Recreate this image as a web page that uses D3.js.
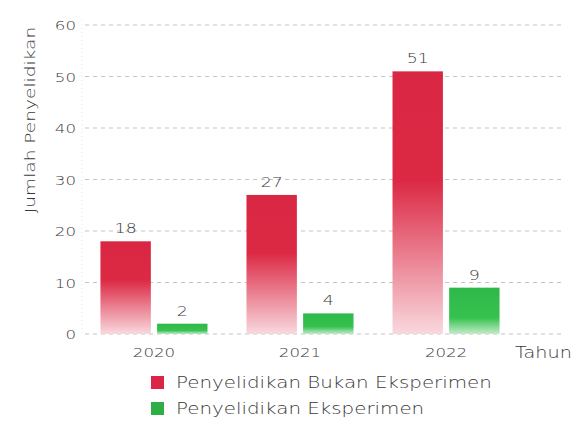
<!DOCTYPE html>
<html><head><meta charset="utf-8">
<script src="https://cdn.jsdelivr.net/npm/d3@7"></script>
<style>
body{margin:0;background:#fff;}
text{font-family:"DejaVu Sans",sans-serif;font-weight:200;fill:#3a3a3a;}
</style></head>
<body><svg id="c" width="580" height="422"></svg>
<script>
const years = ["2020","2021","2022"];
const seriesNames = ["Penyelidikan Bukan Eksperimen","Penyelidikan Eksperimen"];
const bukanEksperimen = [18,27,51];
const eksperimen = [2,4,9];
const yTicks = [0,10,20,30,40,50,60];

const SX = 1.28;
const svg = d3.select("#c");
function label(parent, x, y, txt, size, anchor, rot){
  const g = parent.append("g").attr("transform",`translate(${x},${y}) rotate(${rot||0}) scale(${SX},1)`);
  g.append("text").attr("text-anchor",anchor||"start").attr("font-size",size).text(txt);
  return g;
}

const x = d3.scaleBand().domain(years).range([80,520]).paddingInner(0.267).paddingOuter(0.14);
const xs = d3.scaleBand().domain(seriesNames).range([0,x.bandwidth()]).paddingInner(0.11);
const y = d3.scaleLinear().domain([0,60]).range([334,25]);

const defs = svg.append("defs");
const gr = defs.append("linearGradient").attr("id","gr").attr("x1",0).attr("y1",0).attr("x2",0).attr("y2",1);
gr.append("stop").attr("offset","0%").attr("stop-color","#d92743");
gr.append("stop").attr("offset","42%").attr("stop-color","#dc2a45");
gr.append("stop").attr("offset","100%").attr("stop-color","#f9d8de");
const gg = defs.append("linearGradient").attr("id","gg").attr("x1",0).attr("y1",0).attr("x2",0).attr("y2",1);
gg.append("stop").attr("offset","0%").attr("stop-color","#2fb84a");
gg.append("stop").attr("offset","65%").attr("stop-color","#36c24e");
gg.append("stop").attr("offset","100%").attr("stop-color","#c4ebcb");

// gridlines
svg.append("g").selectAll("line").data(yTicks).join("line")
  .attr("x1",85).attr("x2",565).attr("y1",d=>y(d)).attr("y2",d=>y(d))
  .attr("stroke","#c4c4c4").attr("stroke-width",1.2).attr("stroke-dasharray","4,4");
svg.append("line").attr("x1",82).attr("x2",82).attr("y1",20).attr("y2",334)
  .attr("stroke","#e6e6e6").attr("stroke-dasharray","1,3");

// y tick labels
const yt = svg.append("g");
yTicks.forEach(d=>label(yt, 76, y(d)+5, d, 13, "end"));

// y title
label(svg, 35, 120, "Jumlah Penyelidikan", 14.5, "middle", -90);

const data = [bukanEksperimen, eksperimen];
const fills = ["url(#gr)","url(#gg)"];
seriesNames.forEach((s,si)=>{
  const g = svg.append("g");
  g.selectAll("rect").data(years).join("rect")
    .attr("x",d=>x(d)+xs(s)).attr("width",xs.bandwidth())
    .attr("y",(d,i)=>y(data[si][i])).attr("height",(d,i)=>y(0)-y(data[si][i]))
    .attr("fill",fills[si]);
  years.forEach((d,i)=>label(g, x(d)+xs(s)+xs.bandwidth()/2, y(data[si][i])-8, data[si][i], 13.5, "middle"));
});

// x labels
const xl = svg.append("g");
years.forEach(d=>label(xl, x(d)+x.bandwidth()/2, 357, d, 13, "middle"));
label(svg, 515, 358, "Tahun", 15, "start");

// legend
const lg = svg.append("g");
const lc = ["#dc2446","#2fae45"];
seriesNames.forEach((s,i)=>{
  lg.append("rect").attr("x",151).attr("y",376+i*26).attr("width",13).attr("height",13).attr("fill",lc[i]);
  label(lg, 176, 388+i*26, s, 15.5, "start");
});
</script></body></html>
